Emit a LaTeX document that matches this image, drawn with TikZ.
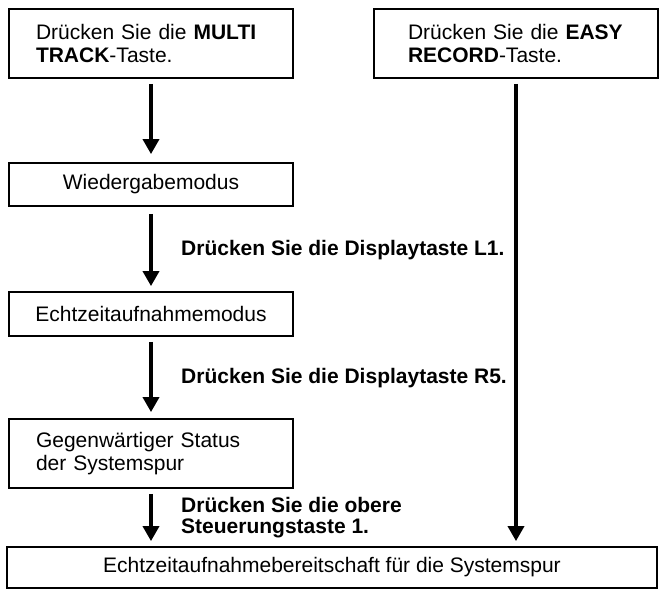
\documentclass[tikz,border=0pt]{standalone}
\usepackage{fontspec}
\setmainfont{Liberation Sans}
\usetikzlibrary{arrows.meta, positioning}

\begin{document}
\begin{tikzpicture}[x=1pt, y=-1pt, font=\fontsize{21}{23}\selectfont,
    box/.style={draw, line width=1.8pt, minimum width=284pt, inner ysep=0pt},
    flow/.style={-{Triangle[width=16pt, length=15pt]}, line width=3.5pt},
    hint/.style={font=\fontsize{21}{21.5}\selectfont\bfseries, align=left, anchor=west, inner sep=0pt}]
  \useasboundingbox (0,0) rectangle (659,590);
  % boxes
  \node[box, minimum height=69pt, text width=230pt, inner xsep=27pt, align=left] (multi) at (151,43.5) {Drücken Sie die \textbf{MULTI}\\\textbf{TRACK}-Taste.};
  \node[box, minimum height=69pt, text width=216pt, inner xsep=34pt, align=left] (easy) at (516,43.5) {Drücken Sie die \textbf{EASY}\\\textbf{RECORD}-Taste.};
  \node[box, minimum height=43pt] (wieder) at (151,184.5) {Wiedergabemodus};
  \node[box, minimum height=44pt] (echtzeit) at (151,314) {Echtzeitaufnahmemodus};
  \node[box, minimum height=69pt, text width=230pt, inner xsep=27pt, align=left] (status) at (151,453.5) {Gegenwärtiger Status\\der Systemspur};
  \node[box, minimum height=41pt, minimum width=650pt] (bereit) at (332,567.5) {Echtzeitaufnahmebereitschaft für die Systemspur};
  % arrows
  \draw[flow] ([yshift=-5pt]multi.south) -- ([yshift=8pt]wieder.north);
  \draw[flow] ([yshift=-7pt]wieder.south) -- ([yshift=5pt]echtzeit.north);
  \draw[flow] ([yshift=-5pt]echtzeit.south) -- ([yshift=6pt]status.north);
  \draw[flow] ([yshift=-5pt]status.south) -- ([yshift=5pt]status.south |- bereit.north);
  \draw[flow] ([yshift=-5pt]easy.south) -- ([yshift=5pt]easy.south |- bereit.north);
  % labels
  \node[hint] (l1) at (181,250) {Drücken Sie die Displaytaste L1.};
  \node[hint] (r5) at (181,378) {Drücken Sie die Displaytaste R5.};
  \node[hint] (s1) at (181,517.5) {Drücken Sie die obere\\Steuerungstaste 1.};
\end{tikzpicture}
\end{document}
